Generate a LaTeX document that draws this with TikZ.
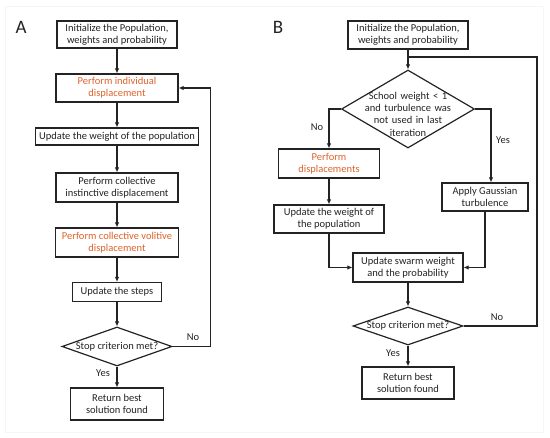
\documentclass[tikz,border=0pt]{standalone}
\usepackage{fontspec}
\setmainfont{Carlito}
\usetikzlibrary{arrows.meta,positioning,shapes.geometric}
\definecolor{StepOrange}{RGB}{222,98,42}
\definecolor{LineGray}{RGB}{35,35,35}

\begin{document}
\begin{tikzpicture}[x=1pt,y=-1pt,
  b/.style={rectangle,draw=LineGray,line width=1.2pt,inner sep=0pt,font=\fontsize{10.5}{12.3}\selectfont,align=center,text=LineGray},
  dia/.style={diamond,draw=LineGray,line width=1.2pt,inner sep=0pt},
  lbl/.style={font=\fontsize{10.5}{12.3}\selectfont,text=LineGray},
  arr/.style={-{Latex[length=5pt,width=4.5pt]},line width=1.2pt,draw=LineGray},
  ln/.style={line width=1.2pt,draw=LineGray}
]
  \useasboundingbox (0,0) rectangle (550,438);
  \draw[black!4,line width=0.8pt] (5,6) rectangle (543,432);

  % panel A
  \node[font=\fontsize{19}{22}\selectfont,text=LineGray] (la) at (21,27) {A};
  \node[b,minimum width=120pt,minimum height=27pt] (ia) at (117,34.5) {Initialize the Population,\\weights and probability};
  \node[b,text=StepOrange,minimum width=122pt,minimum height=28pt] (pi) at (117,88) {Perform individual\\displacement};
  \node[b,minimum width=163pt,minimum height=17pt] (uw) at (117,136.5) {Update the weight of the population};
  \node[b,minimum width=122pt,minimum height=29pt] (ci) at (117,187.5) {Perform collective\\instinctive displacement};
  \node[b,text=StepOrange,minimum width=123pt,minimum height=29pt] (cv) at (117,242.5) {Perform collective volitive\\displacement};
  \node[b,minimum width=89pt,minimum height=19pt] (us) at (117,292) {Update the steps};
  \node[dia,minimum width=110pt,minimum height=39pt] (sa) at (117,346.5) {};
  \node[lbl] (sat) at (sa) {Stop criterion met?};
  \node[b,minimum width=93pt,minimum height=32pt] (ra) at (117,404) {Return best\\solution found};
  \draw[arr] (ia) -- (pi);
  \draw[arr] (pi) -- (uw);
  \draw[arr] (uw) -- (ci);
  \draw[arr] (ci) -- (cv);
  \draw[arr] (cv) -- (us);
  \draw[arr] (us) -- (sa);
  \draw[arr] (sa) -- (ra);
  \draw[arr] (sa.east) -- ++(38,0) |- (pi.east);
  \node[lbl] (na) at (193,337) {No};
  \node[lbl] (ya) at (103,373) {Yes};

  % panel B
  \node[font=\fontsize{19}{22}\selectfont,text=LineGray] (lb) at (278,27) {B};
  \node[b,minimum width=120pt,minimum height=28pt] (ib) at (408,35) {Initialize the Population,\\weights and probability};
  \node[dia,minimum width=133pt,minimum height=78pt] (sw) at (408,109) {};
  \node[lbl,text width=110pt,align=center,inner sep=0pt] (swt) at (408,114) {School weight < 1\\and turbulence was\\not used in last\\iteration};
  \node[b,text=StepOrange,minimum width=101pt,minimum height=29pt] (pd) at (329,163.5) {Perform\\displacements};
  \node[b,minimum width=86pt,minimum height=28pt] (ag) at (485,197) {Apply Gaussian\\turbulence};
  \node[b,minimum width=110pt,minimum height=28pt] (ub) at (329,219) {Update the weight of\\the population};
  \node[b,minimum width=110pt,minimum height=29pt] (sb) at (408,267.5) {Update swarm weight\\and the probability};
  \node[dia,minimum width=110pt,minimum height=38pt] (sd) at (408,326) {};
  \node[lbl] (sdt) at (sd) {Stop criterion met?};
  \node[b,minimum width=92pt,minimum height=32pt] (rb) at (408,383) {Return best\\solution found};
  \coordinate (jn) at (408,57);
  \coordinate (lp) at (537,57);
  \draw[arr] (ib) -- (sw);
  \draw[arr] (sw.west) -| (pd.north);
  \draw[arr] (sw.east) -| ([xshift=6pt]ag.north);
  \draw[arr] (pd) -- (ub);
  \draw[arr] (ub.south) |- (sb.west);
  \draw[arr] (ag.south) |- (sb.east);
  \draw[arr] (sb) -- (sd);
  \draw[arr] (sd) -- (rb);
  \draw[ln] (sd.east) -| (lp) -- (jn);
  \node[lbl] (nb) at (317,127) {No};
  \node[lbl] (yb) at (503,140) {Yes};
  \node[lbl] (nc) at (497,317) {No};
  \node[lbl] (yc) at (393,353) {Yes};
\end{tikzpicture}
\end{document}
